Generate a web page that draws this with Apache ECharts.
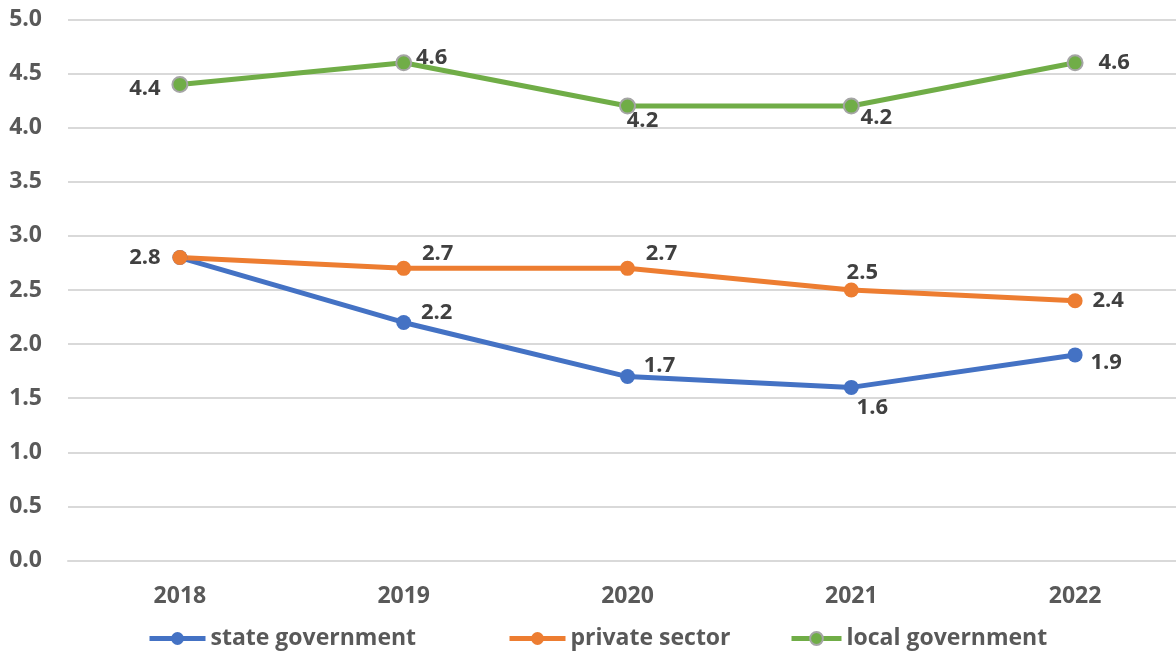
<!DOCTYPE html>
<html>
<head>
<meta charset="utf-8">
<script src="https://cdn.jsdelivr.net/npm/echarts@6/dist/echarts.min.js"></script>
<style>
html,body{margin:0;padding:0;background:#fff;overflow:hidden;width:1176px;height:652px;}
#chart{width:1188px;height:652px;}
</style>
</head>
<body>
<div id="chart"></div>
<script>
const categories = ['2018', '2019', '2020', '2021', '2022'];
const stateGovernment = [2.8, 2.2, 1.7, 1.6, 1.9];
const privateSector = [2.8, 2.7, 2.7, 2.5, 2.4];
const localGovernment = [4.4, 4.6, 4.2, 4.2, 4.6];
const yTicks = [0, 0.5, 1, 1.5, 2, 2.5, 3, 3.5, 4, 4.5, 5];

// label offsets (style only): [dx, dy] from point centre to label centre
const stateOffsets = [null, [33, -10], [32, -11], [21, 20], [31, 8]];
const privateOffsets = [[-35, 0], [34, -15], [34, -15], [11, -17], [33, 0]];
const localOffsets = [[-35, 4], [28, -5], [15, 15], [25, 12], [39, 0]];

const FONT = '"Open Sans", "Noto Sans", sans-serif';

function buildData(values, offsets) {
  return values.map((v, i) => {
    const o = offsets[i];
    if (!o) return { value: v, label: { show: false } };
    return { value: v, label: { show: true, position: 'inside', offset: o } };
  });
}

function lineSeries(name, values, offsets, color, border) {
  return {
    name: name,
    type: 'line',
    data: buildData(values, offsets),
    symbol: 'circle',
    symbolSize: 15,
    lineStyle: { color: color, width: 5 },
    itemStyle: { color: color, borderColor: border || color, borderWidth: border ? 2 : 0 },
    label: {
      show: true,
      formatter: p => p.value.toFixed(1),
      color: '#404040',
      fontFamily: FONT,
      fontWeight: 'bold',
      fontSize: 22,
      align: 'center',
      verticalAlign: 'middle'
    },
    emphasis: { disabled: true },
    z: 3
  };
}

const legendText = { color: '#595959', fontFamily: FONT, fontWeight: 'bold', fontSize: 23 };
function legendFor(name, left, width) {
  return {
    data: [name], left: left, top: 627, itemWidth: width, itemHeight: 16, itemGap: 4,
    textStyle: legendText, padding: 0, selectedMode: false,
    lineStyle: { width: 5 }
  };
}

const chart = echarts.init(document.getElementById('chart'), null, { renderer: 'canvas' });
chart.setOption({
  animation: false,
  backgroundColor: '#ffffff',
  grid: { left: 68, top: 19.5, width: 1119, bottom: 91.5, containLabel: false },
  legend: [
    legendFor('state government', 147, 56),
    legendFor('private sector', 507, 56),
    legendFor('local government', 789, 50)
  ],
  xAxis: {
    type: 'category',
    data: categories,
    boundaryGap: true,
    axisLine: { show: true, lineStyle: { color: '#d9d9d9', width: 2 } },
    axisTick: { show: false },
    axisLabel: { color: '#595959', fontFamily: FONT, fontWeight: 'bold', fontSize: 23, margin: 24 }
  },
  yAxis: {
    type: 'value',
    min: yTicks[0],
    max: yTicks[yTicks.length - 1],
    interval: 0.5,
    axisLine: { show: false },
    axisTick: { show: false },
    splitLine: { lineStyle: { color: '#d9d9d9', width: 2 } },
    axisLabel: {
      color: '#595959', fontFamily: FONT, fontWeight: 'bold', fontSize: 23, margin: 26,
      formatter: v => v.toFixed(1)
    }
  },
  series: [
    lineSeries('state government', stateGovernment, stateOffsets, '#4472c4'),
    lineSeries('private sector', privateSector, privateOffsets, '#ed7d31'),
    lineSeries('local government', localGovernment, localOffsets, '#70ad47', '#a5a5a5')
  ]
});
</script>
</body>
</html>
